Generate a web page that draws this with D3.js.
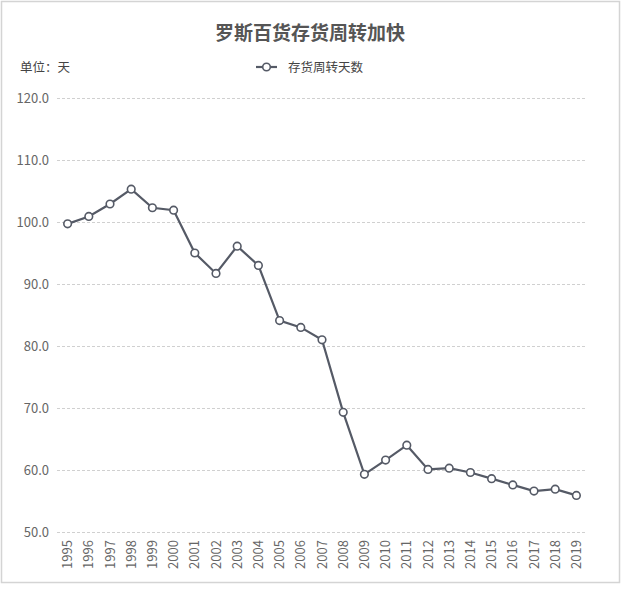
<!DOCTYPE html>
<html>
<head>
<meta charset="utf-8">
<script src="https://cdn.jsdelivr.net/npm/d3@7"></script>
<style>
body{margin:0;background:#fff;}
text{font-family:"Noto Sans CJK SC","Noto Sans",sans-serif;}
</style>
</head>
<body>
<div id="grafica"></div>
<script>
// datos
var anios=["1995","1996","1997","1998","1999","2000","2001","2002","2003","2004","2005","2006","2007","2008","2009","2010","2011","2012","2013","2014","2015","2016","2017","2018","2019"]
var dias=[99.7,100.9,102.9,105.3,102.3,101.9,95.0,91.7,96.1,93.0,84.1,83.0,81.0,69.3,59.3,61.6,64.0,60.1,60.3,59.6,58.6,57.6,56.6,56.9,55.9]
var ticksY=[50,60,70,80,90,100,110,120]

var titulo="罗斯百货存货周转加快"
var serie="存货周转天数"
var unidad="单位：天"

var ancho=622,alto=594
var margin={top:98,bottom:62,left:57,right:35}
var color="#555a66"

var svg=d3.select("#grafica")
	.append("svg")
	.attr("width",ancho)
	.attr("height",alto)

//marco
svg.append("rect")
	.attr("x",1.5).attr("y",1.5)
	.attr("width",618).attr("height",581)
	.attr("fill","none")
	.attr("stroke","#d4d4d4")
	.attr("stroke-width",1.5)

var escalaX=d3.scaleBand()
	.domain(anios)
	.range([margin.left,ancho-margin.right])

var escalaY=d3.scaleLinear()
	.domain([50,120])
	.range([alto-margin.bottom,margin.top])

//lineas de la cuadricula
svg.append("g")
	.selectAll("line")
	.data(ticksY)
	.enter()
	.append("line")
	.attr("x1",margin.left)
	.attr("x2",ancho-margin.right)
	.attr("y1",d=>escalaY(d)+.5)
	.attr("y2",d=>escalaY(d)+.5)
	.attr("stroke","#d0d0d0")
	.attr("stroke-dasharray","3,2")

//eje Y
var ejeY=svg.append("g")
	.attr("transform","translate("+(margin.left-8)+",0)")
	.call(d3.axisLeft(escalaY).tickValues(ticksY).tickFormat(d3.format(".1f")).tickSize(0))
ejeY.select(".domain").remove()
ejeY.selectAll("text")
	.attr("fill","#666")
	.attr("x",0)
	.style("font-size","13px")

//eje X
var ejeX=svg.append("g")
	.attr("transform","translate(0,"+(alto-margin.bottom)+")")
	.call(d3.axisBottom(escalaX).tickSize(0))
ejeX.select(".domain").remove()
ejeX.selectAll("text")
	.attr("fill","#666")
	.style("font-size","13px")
	.attr("text-anchor","end")
	.attr("transform","rotate(-90)")
	.attr("x",-8)
	.attr("y",0)
	.attr("dy",".35em")

//linea
var linea=d3.line()
	.x((d,i)=>escalaX(anios[i])+escalaX.bandwidth()/2)
	.y(d=>escalaY(d))

svg.append("path")
	.datum(dias)
	.attr("d",linea)
	.attr("fill","none")
	.attr("stroke",color)
	.attr("stroke-width",2.2)

svg.selectAll("circulos")
	.data(dias)
	.enter()
	.append("circle")
	.attr("cx",(d,i)=>escalaX(anios[i])+escalaX.bandwidth()/2)
	.attr("cy",d=>escalaY(d))
	.attr("r",3.8)
	.attr("fill","#fff")
	.attr("stroke",color)
	.attr("stroke-width",1.6)

//titulo y leyenda
svg.append("text")
	.attr("x",310)
	.attr("y",40)
	.attr("text-anchor","middle")
	.attr("fill","#555")
	.style("font-size","19px")
	.style("font-weight","bold")
	.text(titulo)

svg.append("text")
	.attr("x",20)
	.attr("y",72)
	.attr("fill","#444")
	.style("font-size","12.5px")
	.text(unidad)

var leyenda=svg.append("g")
leyenda.append("line")
	.attr("x1",256).attr("x2",277)
	.attr("y1",67).attr("y2",67)
	.attr("stroke",color)
	.attr("stroke-width",2.2)
leyenda.append("circle")
	.attr("cx",266.5).attr("cy",67).attr("r",3.8)
	.attr("fill","#fff")
	.attr("stroke",color)
	.attr("stroke-width",1.6)
leyenda.append("text")
	.attr("x",288)
	.attr("y",72)
	.attr("fill","#444")
	.style("font-size","12.5px")
	.text(serie)
</script>
</body>
</html>
